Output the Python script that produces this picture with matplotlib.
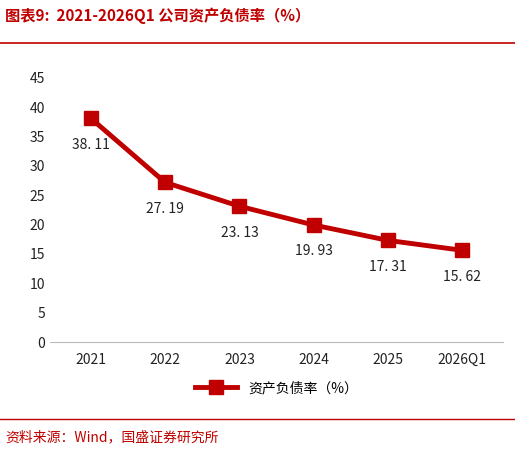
import matplotlib
matplotlib.use("Agg")
import matplotlib.pyplot as plt
from matplotlib.lines import Line2D

plt.rcParams['font.family'] = ['Noto Sans CJK SC', 'DejaVu Sans']

years = ["2021", "2022", "2023", "2024", "2025", "2026Q1"]
ratio = [38.11, 27.19, 23.13, 19.93, 17.31, 15.62]
label_text = ["38. 11", "27. 19", "23. 13", "19. 93", "17. 31", "15. 62"]
yticks = [0, 5, 10, 15, 20, 25, 30, 35, 40, 45]

red = "#C00000"
fig = plt.figure(figsize=(5.15, 4.5), dpi=100)
ax = fig.add_axes([0.097, 0.24, 0.88, 0.587])
x = list(range(len(years)))
ax.plot(x, ratio, color=red, lw=3.5, marker='s', ms=10, label="资产负债率（%）")
for xi, v, t in zip(x, ratio, label_text):
    ax.annotate(t, (xi, v), xytext=(0, -14), textcoords='offset points',
                ha='center', va='top', fontsize=10, color='#222222')
ax.set_ylim(0, 45)
ax.set_yticks(yticks)
ax.set_xlim(-0.55, 5.55)
ax.set_xticks(x)
ax.set_xticklabels(years)
ax.tick_params(length=0, labelsize=10, colors='#222222')
for s in ['top', 'right', 'left']:
    ax.spines[s].set_visible(False)
ax.spines['bottom'].set_color('#BBBBBB')
ax.tick_params(axis='x', pad=8)
ax.legend(loc='upper center', bbox_to_anchor=(0.5, -0.1), frameon=False, fontsize=10,
          handlelength=3)

fig.text(0.01, 0.965, "图表9:  2021-2026Q1 公司资产负债率（%）", color=red, fontsize=11,
         style='italic', fontweight='bold', va='center')
fig.add_artist(Line2D([0.0, 1.0], [0.905, 0.905], color=red, lw=1.2))
fig.add_artist(Line2D([0.0, 1.0], [0.068, 0.068], color=red, lw=1.0))
fig.text(0.01, 0.028, "资料来源：Wind，国盛证券研究所", color=red, fontsize=10,
         style='italic', va='center')
fig.savefig("out.png", dpi=100)
